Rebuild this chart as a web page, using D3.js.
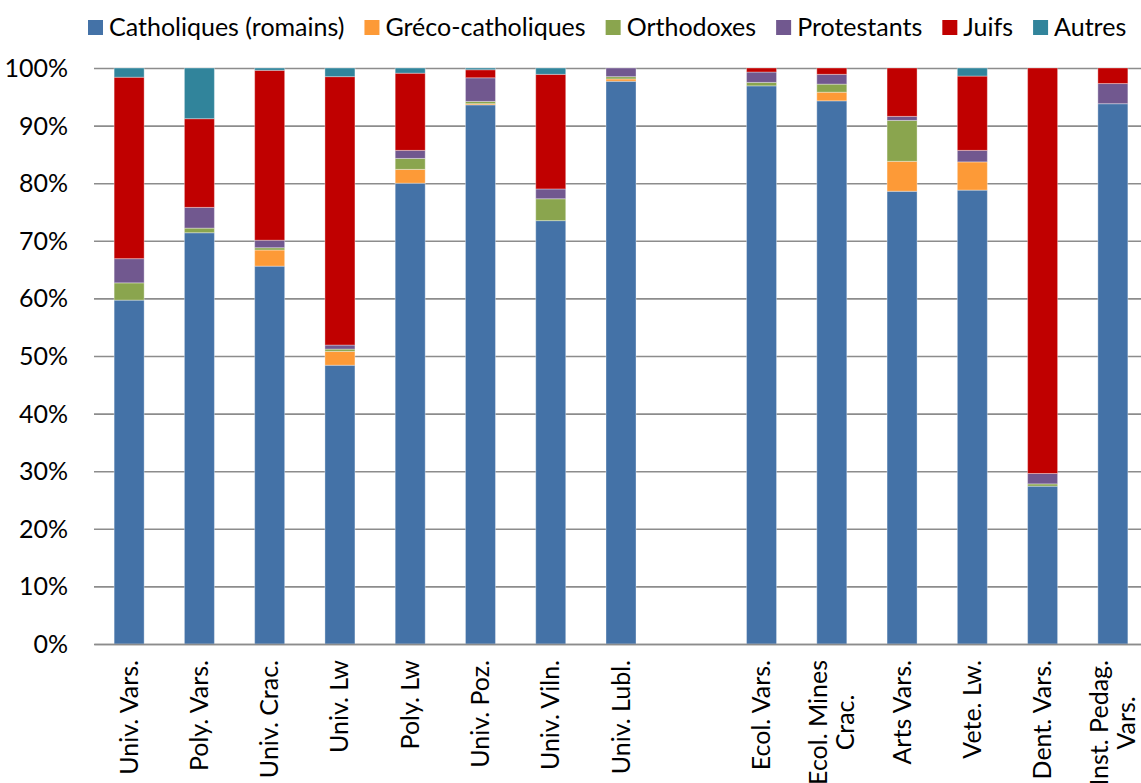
<!DOCTYPE html>
<html>
<head>
<meta charset="utf-8">
<script src="https://cdn.jsdelivr.net/npm/d3@7"></script>
<style>
  body { margin: 0; background: #fff; }
  .chart text { font-family: Lato, "Open Sans", sans-serif; fill: #000; }
</style>
</head>
<body>
<svg class="chart"></svg>
<script>
// categories (empty slot between the two groups)
var categories = ["Univ. Vars.", "Poly. Vars.", "Univ. Crac.", "Univ. Lw", "Poly. Lw",
  "Univ. Poz.", "Univ. Viln.", "Univ. Lubl.", "", "Ecol. Vars.", "Ecol. Mines\nCrac.",
  "Arts Vars.", "Vete. Lw.", "Dent. Vars.", "Inst. Pedag.\nVars."];

var seriesNames = ["Catholiques (romains)", "Gréco-catholiques", "Orthodoxes", "Protestants", "Juifs", "Autres"];

var catholiques = [59.7, 71.4, 65.6, 48.4, 80.0, 93.6, 73.5, 97.7, 0, 96.9, 94.3, 78.6, 78.8, 27.4, 93.8];
var greco       = [0, 0, 2.8, 2.4, 2.4, 0.2, 0, 0.4, 0, 0, 1.5, 5.2, 4.9, 0, 0];
var orthodoxes  = [3.0, 0.8, 0.4, 0.4, 1.9, 0.4, 3.8, 0.4, 0, 0.6, 1.4, 7.1, 0, 0.4, 0];
var protestants = [4.2, 3.6, 1.3, 0.7, 1.4, 4.1, 1.7, 1.5, 0, 1.8, 1.7, 0.7, 2.0, 1.8, 3.5];
var juifs       = [31.5, 15.4, 29.5, 46.6, 13.4, 1.4, 19.9, 0, 0, 0.7, 1.1, 8.4, 12.9, 70.4, 2.7];
var autres      = [1.6, 8.8, 0.4, 1.5, 0.9, 0.3, 1.1, 0, 0, 0, 0, 0, 1.4, 0, 0];

var yTicks = [0, 10, 20, 30, 40, 50, 60, 70, 80, 90, 100];

var colors = ["#4472a7", "#fd9a37", "#8aa54e", "#71588f", "#c00000", "#31849b"];

var margin = {top: 68, right: 0, bottom: 139, left: 94},
    width = 1054,
    height = 576;

var svgW = 1141, svgH = 783;

var table = categories.map(function(c, i) {
  return {
    cat: c,
    "Catholiques (romains)": catholiques[i],
    "Gréco-catholiques": greco[i],
    "Orthodoxes": orthodoxes[i],
    "Protestants": protestants[i],
    "Juifs": juifs[i],
    "Autres": autres[i]
  };
});

var x = d3.scaleBand()
    .domain(categories)
    .range([0, width])
    .paddingInner(0.573)
    .paddingOuter(0.2865);

var y = d3.scaleLinear()
    .domain([0, 100])
    .range([height, 0]);

var z = d3.scaleOrdinal()
    .domain(seriesNames)
    .range(colors);

var stats = d3.stack().keys(seriesNames)(table);

var svg = d3.select(".chart")
    .attr("width", svgW)
    .attr("height", svgH);

var chart = svg.append("g")
    .attr("transform", "translate(" + margin.left + "," + margin.top + ")");

// gridlines + y labels
var yAxis = d3.axisLeft(y)
    .tickValues(yTicks)
    .tickSize(-width)
    .tickPadding(26)
    .tickFormat(function(d) { return d + "%"; });

chart.append("g")
    .attr("class", "y axis")
    .call(yAxis)
  .call(function(g) { g.select(".domain").remove(); })
  .call(function(g) {
    g.selectAll("line").attr("stroke", "#8c8c8c").attr("stroke-width", 1.6);
    g.selectAll("text").style("font-size", "25px").attr("dy", "0.34em");
  });

// bars
chart.selectAll(".serie")
    .data(stats)
    .enter().append("g")
      .attr("class", "serie")
      .attr("fill", function(d) { return z(d.key); })
    .selectAll("rect")
      .data(function(d) { return d.filter(function(p) { return p[1] - p[0] > 0; }); })
      .enter().append("rect")
      .attr("x", function(d) { return x(d.data.cat); })
      .attr("y", function(d) { return y(d[1]); })
      .attr("height", function(d) { return y(d[0]) - y(d[1]); })
      .attr("width", x.bandwidth())
      .attr("stroke", "#fff")
      .attr("stroke-opacity", 0.35)
      .attr("stroke-width", 1);

// x axis
var xAxis = d3.axisBottom(x).tickSize(0).tickFormat("");

var xg = chart.append("g")
    .attr("class", "x axis")
    .attr("transform", "translate(0," + height + ")")
    .call(xAxis);

xg.select(".domain").attr("stroke", "#8c8c8c").attr("stroke-width", 1.6);

xg.selectAll(".tick").each(function(d) {
  var lines = d.split("\n");
  var t = d3.select(this).append("text")
      .attr("transform", "rotate(-90)")
      .style("font-size", "25px");
  var n = lines.length;
  var spans = lines.map(function(l, i) {
    return t.append("tspan")
      .attr("y", ((i - (n - 1) / 2) * 1.1 + 0.34) + "em")
      .text(l);
  });
  var widths = spans.map(function(s) { return s.node().getComputedTextLength(); });
  var wmax = d3.max(widths) || 0;
  spans.forEach(function(s) {
    s.attr("x", -16 - wmax / 2).attr("text-anchor", "middle");
  });
});

// legend
var legend = svg.append("g").attr("class", "legend");
var lx = 88;
seriesNames.forEach(function(name) {
  var item = legend.append("g").attr("transform", "translate(" + lx + ",0)");
  item.append("rect")
      .attr("x", 0)
      .attr("y", 20)
      .attr("width", 15)
      .attr("height", 15)
      .attr("fill", z(name));
  var txt = item.append("text")
      .attr("x", 21)
      .attr("y", 27.5)
      .attr("dy", "0.35em")
      .style("font-size", "25px")
      .text(name);
  lx += 21 + txt.node().getComputedTextLength() + 20;
});
</script>
</body>
</html>
